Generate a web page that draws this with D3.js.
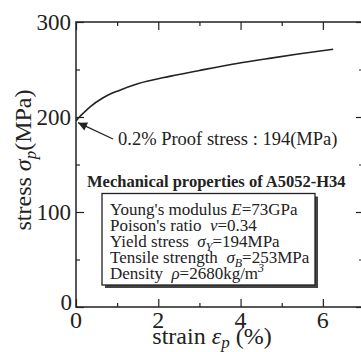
<!DOCTYPE html>
<meta charset="utf-8">
<script src="https://d3js.org/d3.v7.min.js"></script>
<style>
  body { margin: 0; background: #fff; }
  svg text { font-family: "Liberation Serif", "Times New Roman", Times, "DejaVu Serif", serif; fill: #222; }
</style>
<div id="chart"></div>
<script>
// readings
var strain = [0, 0.06, 0.2, 0.35, 0.65, 1.05, 1.5, 2.3, 3.0, 3.8, 4.6, 5.4, 6.25];
var stress = [196, 199, 205, 211, 220, 228, 235, 243, 249, 255.5, 261, 266.3, 271.3];
var xTicks = [0, 2, 4, 6];
var yTicks = [0, 100, 200, 300];
var proof = [0.05, 194];

var W = 361, H = 352;
var svg = d3.select("#chart").append("svg")
    .attr("width", W).attr("height", H)
    .attr("font-family", "Liberation Serif, serif");

var x = d3.scaleLinear().domain([0, 7]).range([76, 364]);
var y = d3.scaleLinear().domain([0, 300]).range([307, 22]);

var ink = "#222";

// frame
svg.append("rect")
  .attr("x", x(0)).attr("y", y(300))
  .attr("width", x(7) - x(0)).attr("height", y(0) - y(300))
  .attr("fill", "none").attr("stroke", ink).attr("stroke-width", 1.5);

// ticks, pointing inward on all four sides
function ticks(g, axis, vals, len) {
  g.append("g").call(axis.tickValues(vals).tickSize(-len).tickFormat(""))
    .call(function(s) { s.select(".domain").remove(); s.selectAll("line").attr("stroke", ink).attr("stroke-width", 1.2); });
}
var bottom = svg.append("g").attr("transform", "translate(0," + y(0) + ")");
var top_ = svg.append("g").attr("transform", "translate(0," + y(300) + ")");
var left = svg.append("g").attr("transform", "translate(" + x(0) + ",0)");
var right = svg.append("g").attr("transform", "translate(" + x(7) + ",0)");
ticks(bottom, d3.axisBottom(x), xTicks, 8);
ticks(bottom, d3.axisBottom(x), [1, 3, 5], 4);
ticks(top_, d3.axisTop(x), xTicks, 8);
ticks(top_, d3.axisTop(x), [1, 3, 5], 4);
ticks(left, d3.axisLeft(y), yTicks, 8);
ticks(left, d3.axisLeft(y), [50, 150, 250], 4);
ticks(right, d3.axisRight(y), yTicks, 8);
ticks(right, d3.axisRight(y), [50, 150, 250], 5);

// tick labels
svg.append("g").selectAll("text").data(xTicks).join("text")
  .attr("x", function(d) { return x(d); }).attr("y", 328)
  .attr("text-anchor", "middle").attr("font-size", 24)
  .text(function(d) { return d; });
svg.append("g").selectAll("text").data(yTicks).join("text")
  .attr("x", function(d) { return d === 0 ? 72 : 71; })
  .attr("y", function(d) { return y(d) + (d === 0 ? 3 : 8); })
  .attr("text-anchor", "end").attr("font-size", 23)
  .text(function(d) { return d; });

// axis titles
var xt = svg.append("text").attr("x", 212).attr("y", 344)
  .attr("text-anchor", "middle").attr("font-size", 24);
xt.append("tspan").text("strain ");
xt.append("tspan").attr("font-style", "italic").text("\u03b5");
xt.append("tspan").attr("font-style", "italic").attr("font-size", 17).attr("dy", 4).text("p");
xt.append("tspan").attr("dy", -4).text(" (%)");

var yt = svg.append("text").attr("transform", "translate(31,160) rotate(-90)")
  .attr("text-anchor", "middle").attr("font-size", 24);
yt.append("tspan").text("stress ");
yt.append("tspan").attr("font-style", "italic").text("\u03c3");
yt.append("tspan").attr("font-style", "italic").attr("font-size", 17).attr("dy", 5).text("p");
yt.append("tspan").attr("dy", -5).text("(MPa)");

// curve
var line = d3.line()
  .x(function(d, i) { return x(strain[i]); })
  .y(function(d, i) { return y(stress[i]); })
  .curve(d3.curveMonotoneX);
svg.append("path").datum(stress)
  .attr("d", line).attr("fill", "none").attr("stroke", ink).attr("stroke-width", 1.6);

// proof stress arrow
svg.append("defs").append("marker").attr("id", "arr")
  .attr("viewBox", "0 0 10 10").attr("refX", 10).attr("refY", 5)
  .attr("markerWidth", 15).attr("markerHeight", 9).attr("markerUnits", "userSpaceOnUse")
  .attr("orient", "auto")
  .append("path").attr("d", "M0,0L10,5L0,10z").attr("fill", ink);
svg.append("line")
  .attr("x1", 113).attr("y1", 139)
  .attr("x2", x(proof[0])).attr("y2", y(proof[1]))
  .attr("stroke", ink).attr("stroke-width", 1.3).attr("marker-end", "url(#arr)");
svg.append("text").attr("x", 118).attr("y", 145).attr("font-size", 18.5)
  .attr("xml:space", "preserve")
  .text("0.2% Proof stress : " + proof[1] + "(MPa)");

// properties box
svg.append("text").attr("x", 87).attr("y", 187)
  .attr("font-size", 16.5).attr("font-weight", "bold")
  .text("Mechanical properties of A5052-H34");
svg.append("rect").attr("x", 105).attr("y", 196.5).attr("width", 213).attr("height", 91.5)
  .attr("fill", "#444");
svg.append("rect").attr("x", 102).attr("y", 193.5).attr("width", 213).attr("height", 91.5)
  .attr("fill", "#fff").attr("stroke", ink).attr("stroke-width", 1.3);

var props = [
  [["Young's modulus "], ["E", "i"], ["=73GPa"]],
  [["Poison's ratio  "], ["\u03bd", "i"], ["=0.34"]],
  [["Yield stress  "], ["\u03c3", "i"], ["Y", "sub"], ["=194MPa"]],
  [["Tensile strength  "], ["\u03c3", "i"], ["B", "sub"], ["=253MPa"]],
  [["Density  "], ["\u03c1", "i"], ["=2680kg/m"], ["3", "sup"]]
];
props.forEach(function(row, r) {
  var t = svg.append("text").attr("x", 110).attr("y", 215 + r * 16)
    .attr("font-size", 17).attr("xml:space", "preserve");
  var dy = 0;
  row.forEach(function(p) {
    var s = t.append("tspan").text(p[0]);
    var want = p[1] === "sub" ? 4 : p[1] === "sup" ? -7 : 0;
    if (want !== dy) { s.attr("dy", want - dy); dy = want; }
    if (p[1]) s.attr("font-style", "italic");
    if (p[1] === "sub" || p[1] === "sup") s.attr("font-size", 12);
  });
});
</script>
